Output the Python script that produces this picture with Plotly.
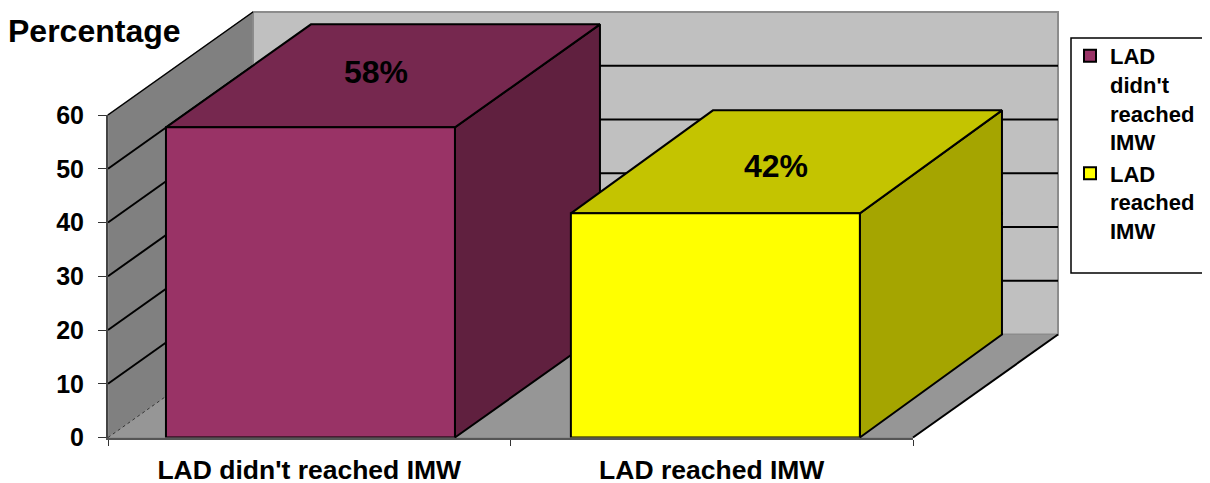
import plotly.graph_objects as go

# ---- data ----
categories = ["LAD didn't reached IMW", "LAD reached IMW"]
legend_names = ["LAD<br>didn't<br>reached<br>IMW", "LAD<br>reached<br>IMW"]
values = [57.7, 41.7]
value_labels = ["58%", "42%"]
y_ticks = [0, 10, 20, 30, 40, 50, 60]

# ---- style / layout ----
PAGE = 8                       # the page's own margin round the figure
W, H = 1210, 483
X0, X_UNIT = 108 - PAGE, 402.5        # pixel of the left end of the x axis, pixels per category
Y0, Y_UNIT = 437.5 - PAGE, 5.375      # pixel of value 0, pixels per value unit
DX, DY = 145 / X_UNIT, 103 / Y_UNIT   # oblique depth in axis units
BAR_W = 0.718
BAR_OFFSETS = [-0.356, -0.350]
BAR_SKEW = [1.0, 0.98]         # sideways share of the depth used by each bar
FRONT = ["#993366", "#FFFF00"]
TOP = ["#76284F", "#C4C400"]
SIDE = ["#60203F", "#A5A500"]
WALL_BACK, WALL_LEFT, FLOOR = "#C0C0C0", "#808080", "#969696"
FONT = "Liberation Sans"
LABEL_SHIFT = [(-7, 4), (-12, -4)]


def proj(u, v, d, skew=1.0):
    return u + DX * d * skew, v + DY * d


def poly(corners, fill, line="black", width=2, skew=1.0):
    pts = [proj(*c, skew) for c in corners] + [proj(*corners[0], skew)]
    return go.Scatter(x=[p[0] for p in pts], y=[p[1] for p in pts], mode="lines", fill="toself",
                      fillcolor=fill, line=dict(color=line, width=width),
                      hoverinfo="skip", showlegend=False, xaxis="x", yaxis="y")


def seg(a, b, color="black", width=2, dash="solid"):
    p, q = proj(*a), proj(*b)
    return go.Scatter(x=[p[0], q[0]], y=[p[1], q[1]], mode="lines",
                      line=dict(color=color, width=width, dash=dash),
                      hoverinfo="skip", showlegend=False, xaxis="x", yaxis="y")


L, R, TOPV = -0.5, 1.5, y_ticks[-1]
fig = go.Figure()
# walls and floor
fig.add_trace(poly([(L, 0, 1), (R, 0, 1), (R, TOPV, 1), (L, TOPV, 1)], WALL_BACK, "#8C8C8C", 2))
fig.add_trace(poly([(L, 0, 0), (L, 0, 1), (L, TOPV, 1), (L, TOPV, 0)], WALL_LEFT, "#8C8C8C", 1.5))
fig.add_trace(poly([(L, 0, 0), (R, 0, 0), (R, 0, 1), (L, 0, 1)], FLOOR, "#8C8C8C", 1))
fig.add_trace(seg((R, 0, 0), (R, 0, 1), "black", 2))
fig.add_trace(seg((L, 0, 0), (L, 0, 1), "#333333", 1, "dot"))
# grid lines
for t in y_ticks[1:]:
    w = 1.5 if t == TOPV else 2
    fig.add_trace(seg((L, t, 0), (L, t, 1), "black", w))
    if t != TOPV:
        fig.add_trace(seg((L, t, 1), (R, t, 1), "black", 2))
# side and top faces of the bars
for i, v in enumerate(values):
    a = i + BAR_OFFSETS[i]
    b = a + BAR_W
    fig.add_trace(poly([(b, 0, 0), (b, 0, 1), (b, v, 1), (b, v, 0)], SIDE[i], skew=BAR_SKEW[i]))
    fig.add_trace(poly([(a, v, 0), (b, v, 0), (b, v, 1), (a, v, 1)], TOP[i], skew=BAR_SKEW[i]))
    lx, ly = proj((a + b) / 2, v, 0.5)
    fig.add_annotation(x=lx, y=ly, xref="x", yref="y", text=value_labels[i], showarrow=False,
                       xshift=LABEL_SHIFT[i][0], yshift=LABEL_SHIFT[i][1],
                       font=dict(family=FONT, size=32, color="black", weight=700))
# front faces: the real bars, on the visible axes
for i, v in enumerate(values):
    fig.add_trace(go.Bar(x=[i], y=[v], width=BAR_W, offset=BAR_OFFSETS[i], name=legend_names[i],
                         marker=dict(color=FRONT[i], line=dict(color="black", width=2)),
                         xaxis="x2", yaxis="y2", hovertemplate=categories[i] + ": %{y}<extra></extra>"))

fig.add_annotation(x=0, y=1 - 23 / H, xref="paper", yref="paper", xanchor="left", yanchor="middle", xshift=-2,
                   text="Percentage", showarrow=False, font=dict(family=FONT, size=32, color="black", weight=700))
fig.add_shape(type="rect", xref="paper", yref="paper", x0=(1071 - PAGE) / W, x1=1.02,
              y0=1 - (273 - PAGE) / H, y1=1 - (38 - PAGE) / H,
              line=dict(color="black", width=1.5), fillcolor="white", layer="below")

fig.update_layout(
    width=W, height=H, margin=dict(l=0, r=0, t=0, b=0, autoexpand=False), autosize=False,
    paper_bgcolor="white", plot_bgcolor="rgba(0,0,0,0)", barmode="overlay",
    xaxis=dict(domain=[0, 1], range=[L - X0 / X_UNIT, L + (W - X0) / X_UNIT], visible=False, fixedrange=True),
    yaxis=dict(domain=[0, 1], range=[(Y0 - H) / Y_UNIT, Y0 / Y_UNIT], visible=False, fixedrange=True),
    xaxis2=dict(domain=[X0 / W, (X0 + 2 * X_UNIT) / W], range=[L, R], anchor="y2", showgrid=False, zeroline=False,
                showline=True, linecolor="#555555", linewidth=2,
                tickmode="array", tickvals=[0, 1], ticktext=categories, ticks="outside", ticklen=8,
                tickcolor="rgba(0,0,0,0)", tickfont=dict(family=FONT, size=26.5, color="black", weight=700),
                minor=dict(tickmode="array", tickvals=[-0.5, 0.5, 1.5], ticks="outside", ticklen=6,
                           tickcolor="#333333", tickwidth=1), fixedrange=True),
    yaxis2=dict(domain=[(H - Y0) / H, (H - Y0 + TOPV * Y_UNIT) / H], range=[0, TOPV], anchor="x2", showgrid=False,
                zeroline=False, showline=True, linecolor="#444444", linewidth=2,
                tickmode="array", tickvals=y_ticks, ticks="outside", ticklen=8, tickwidth=1, tickcolor="#333333",
                ticklabelstandoff=9,
                tickfont=dict(family=FONT, size=25, color="black", weight=700), fixedrange=True),
    legend=dict(x=(1070 - PAGE) / W, xanchor="left", y=1 - (35 - PAGE) / H, yanchor="top", bgcolor="rgba(0,0,0,0)",
                borderwidth=0, traceorder="normal", valign="top",
                font=dict(family=FONT, size=22, color="black", weight=700)),
    showlegend=True,
)
fig.write_html("out.html")
